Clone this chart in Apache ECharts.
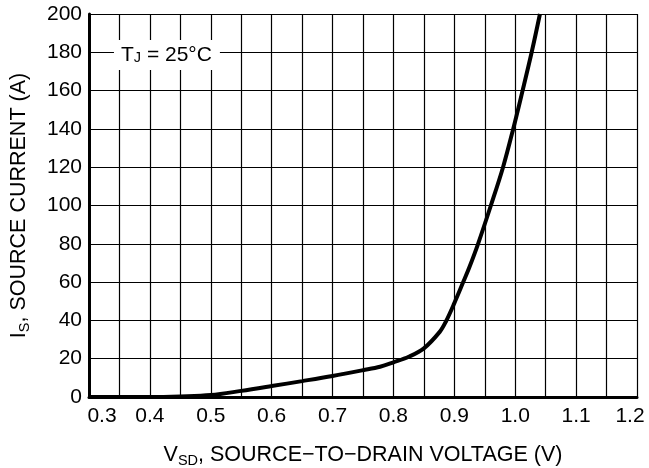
<!DOCTYPE html>
<html>
<head>
<meta charset="utf-8">
<script src="https://cdn.jsdelivr.net/npm/echarts@6/dist/echarts.min.js"></script>
<style>html,body{margin:0;padding:0;background:#fff}#c{width:649px;height:468px}</style>
</head>
<body>
<div id="c"></div>
<script>
// Source-drain diode forward voltage (V) vs source current (A)
const vsd = [0.30, 0.35, 0.40, 0.45, 0.50, 0.55, 0.60, 0.65, 0.70, 0.75, 0.778, 0.80, 0.825, 0.85, 0.876, 0.886, 0.90, 0.9146, 0.925, 0.939, 0.960, 0.980, 0.9967, 1.0121, 1.027, 1.0406];
const isA = [0, 0, 0, 0.3, 1.0, 3.2, 5.7, 8.3, 11, 14, 15.8, 18.1, 21, 25.4, 34, 39.3, 49, 60, 68, 80, 100, 120, 140, 160, 180, 200];
const xTickLabels = ['0.3','0.4','0.5','0.6','0.7','0.8','0.9','1.0','1.1','1.2'];
const yTickLabels = ['0','20','40','60','80','100','120','140','160','180','200'];
const noteCoord = [0.428, 178.6];

const FONT = 'Liberation Sans, Arial, Helvetica, sans-serif';
const chart = echarts.init(document.getElementById('c'));
const data = vsd.map((v, i) => [v, isA[i]]);

const titleRich = {
  m: { fontSize: 21.5, fontFamily: FONT, color: '#000', lineHeight: 26, verticalAlign: 'middle' },
  s: { fontSize: 14.5, fontFamily: FONT, color: '#000', lineHeight: 13, verticalAlign: 'bottom' }
};

chart.setOption({
  animation: false,
  backgroundColor: '#fff',
  grid: { left: 89, right: 12, top: 14, bottom: 71, containLabel: false, outerBoundsMode: 'none' },
  xAxis: {
    type: 'value', min: 0.3, max: 1.2, interval: 0.05,
    axisLine: { show: true, onZero: false, lineStyle: { color: '#000', width: 3 } },
    axisTick: { show: false },
    splitLine: { show: true, lineStyle: { color: '#000', width: 1.2 } },
    axisLabel: {
      color: '#000', fontSize: 21, fontFamily: FONT, margin: 9,
      formatter: function (v) {
        const k = Math.round(v * 20);
        if (k % 2 !== 0) return '';
        const idx = (k - 6) / 2;
        const t = xTickLabels[idx];
        if (idx === 0) return '{l|' + t + '}';
        if (idx === xTickLabels.length - 1) return '{r|' + t + '}';
        return t;
      },
      rich: {
        l: { fontSize: 21, fontFamily: FONT, color: '#000', padding: [0, 0, 0, 26] },
        r: { fontSize: 21, fontFamily: FONT, color: '#000', padding: [0, 14, 0, 0] }
      }
    },
    name: '{m|V}{s|SD}{m|, SOURCE\u2212TO\u2212DRAIN VOLTAGE (V)}',
    nameLocation: 'middle', nameGap: 45,
    nameTextStyle: { rich: titleRich }
  },
  yAxis: {
    type: 'value', min: 0, max: 200, interval: 20,
    axisLine: { show: true, lineStyle: { color: '#000', width: 3 } },
    axisTick: { show: false },
    splitLine: { show: true, lineStyle: { color: '#000', width: 1.2 } },
    axisLabel: {
      color: '#000', fontSize: 21, fontFamily: FONT, margin: 7,
      formatter: function (v) { return yTickLabels[Math.round(v / 20)]; }
    },
    name: '{m|I}{s|S}{m|, SOURCE CURRENT (A)}',
    nameLocation: 'middle', nameGap: 57, nameRotate: 90,
    nameTextStyle: { rich: titleRich }
  },
  series: [{
    type: 'line', data: data, smooth: 0.35, showSymbol: false, symbol: 'none',
    lineStyle: { color: '#000', width: 4 },
    clip: true,
    markPoint: {
      symbol: 'rect', symbolSize: 0, silent: true,
      data: [{ coord: noteCoord }],
      label: {
        show: true, position: 'inside',
        backgroundColor: '#fff', padding: [4, 8, 4, 7],
        formatter: '{m|T}{s|J}{m| = 25\u00B0C}',
        rich: {
          m: { fontSize: 21, fontFamily: FONT, color: '#000', lineHeight: 22, verticalAlign: 'middle' },
          s: { fontSize: 14.5, fontFamily: FONT, color: '#000', lineHeight: 12, verticalAlign: 'bottom' }
        }
      }
    }
  }]
});
</script>
</body>
</html>
